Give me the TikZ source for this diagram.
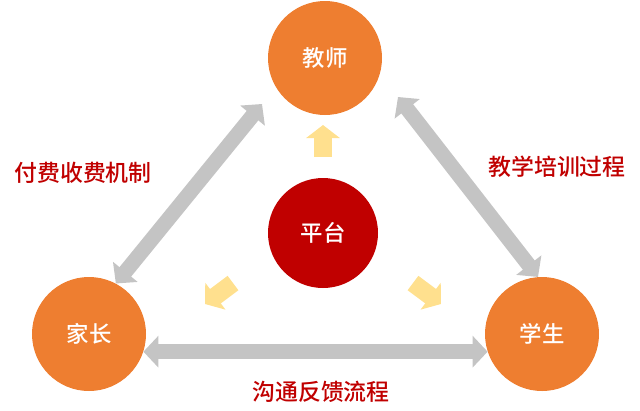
\documentclass[tikz,border=0pt]{standalone}
\usepackage{fontspec}
\newfontfamily\cjk{Noto Sans CJK SC Medium}
\usetikzlibrary{arrows.meta}
\definecolor{orng}{HTML}{EE7E30}
\definecolor{dred}{HTML}{C00000}
\definecolor{gry}{HTML}{C4C4C4}
\definecolor{ylw}{HTML}{FFE08E}
\tikzset{
  role/.style={circle, fill=orng, minimum size=114bp, inner sep=0pt, text=white,
    font=\cjk\fontsize{22.5}{24}\selectfont},
  hub/.style={circle, fill=dred, minimum size=110bp, inner sep=0pt, text=white,
    font=\cjk\fontsize{22.5}{24}\selectfont},
  lbl/.style={text=dred, inner sep=0pt, font=\cjk\fontsize{23}{25}\selectfont},
  link/.style={draw=gry, line width=15bp,
    {Triangle[width=31bp,length=15bp]}-{Triangle[width=31bp,length=15bp]}},
  hint/.style={draw=ylw, line width=18bp, -{Triangle[width=33bp,length=13bp]}},
}
\begin{document}
\begin{tikzpicture}[x=1bp,y=-1bp]
\useasboundingbox (0,0) rectangle (640,410);
\node[role] (teacher) at (325,58) {教师};
\node[role] (parent) at (89,334) {家长};
\node[role] (student) at (542,334) {学生};
\node[hub] (hub) at (323,233) {平台};

\coordinate (tA) at (262,104);
\coordinate (tB) at (398,97);
\draw[link] (parent.62) -- (tA);
\draw[link] (tB) -- (student.94);
\draw[link] (parent.-18) -- (student.198);

\coordinate (u0) at (323,157);
\coordinate (u1) at (323,125);
\coordinate (l0) at (233,283);
\coordinate (l1) at (205,304);
\coordinate (r0) at (413,283);
\coordinate (r1) at (441,304);
\draw[hint] (u0) -- (u1);
\draw[hint] (l0) -- (l1);
\draw[hint] (r0) -- (r1);

\node[lbl] (pay) at (83,173) {付费收费机制};
\node[lbl] (teach) at (557,167) {教学培训过程};
\node[lbl] (comm) at (321,392) {沟通反馈流程};
\end{tikzpicture}
\end{document}
